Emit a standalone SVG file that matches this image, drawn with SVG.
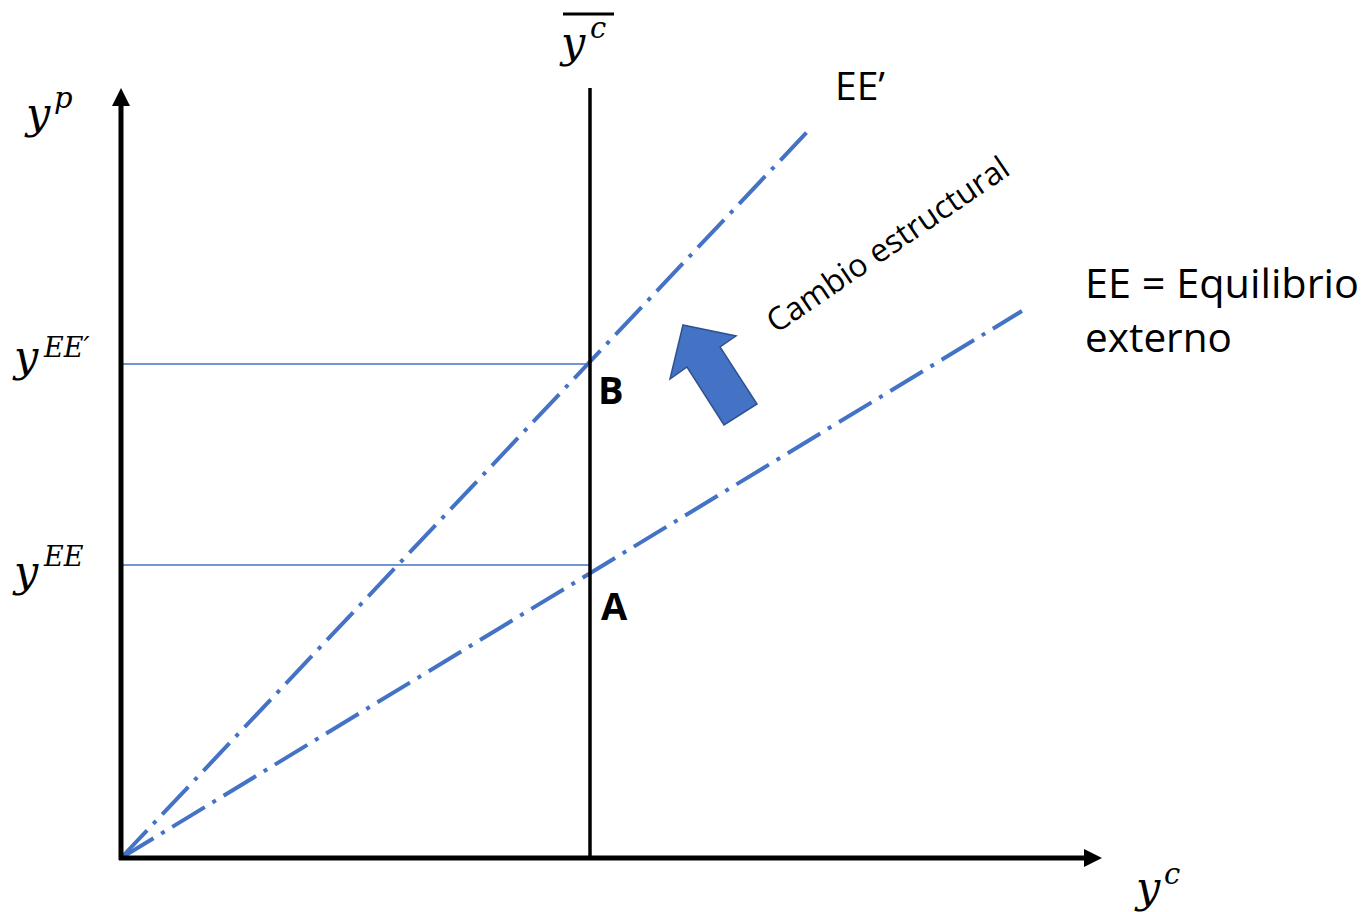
<svg xmlns="http://www.w3.org/2000/svg" width="1369" height="912" viewBox="0 0 1369 912">
<style>
.ax{stroke:#000;stroke-width:5;fill:none}
.ee{stroke:#4472C4;stroke-width:4;fill:none;stroke-dasharray:38 9 4 9}
.hl{stroke:#4472C4;stroke-width:1.5}
.m{font-family:"DejaVu Serif",serif;font-style:italic;fill:#000}
.t{font-family:"Open Sans","Liberation Sans",sans-serif;fill:#000}
.b{font-family:"Open Sans","Liberation Sans",sans-serif;font-weight:bold;fill:#000}
</style>
<rect width="1369" height="912" fill="#fff"/>
<g id="connectors">
  <line class="hl" x1="121" y1="364" x2="590" y2="364"/>
  <line class="hl" x1="121" y1="565" x2="590" y2="565"/>
  <line class="ee" x1="121" y1="858" x2="1022" y2="311"/>
  <line class="ee" x1="121" y1="858" x2="808" y2="131"/>
  <line x1="590" y1="88" x2="590" y2="858" stroke="#000" stroke-width="3.5"/>
</g>
<g id="axes">
  <line class="ax" x1="121" y1="860" x2="121" y2="104"/>
  <polygon points="121,88 112,106 130,106" fill="#000"/>
  <line class="ax" x1="119" y1="858" x2="1086" y2="858"/>
  <polygon points="1102,858 1084,849 1084,867" fill="#000"/>
</g>
<g id="shift-arrow">
  <polygon points="683,325 736,336 720,347 757,404 724,425 687,367 670,379" fill="#4472C4" stroke="#2F528F" stroke-width="1.5" stroke-linejoin="miter"/>
</g>
<g id="label-cambio">
  <text class="t" font-size="32" transform="translate(776,334) rotate(-34.2)">Cambio estructural</text>
</g>
<g id="label-ee-prime">
  <text class="t" font-size="39" x="835" y="100">EE’</text>
</g>
<g id="label-ee">
  <text class="t" font-size="40.5" x="1085" y="298" textLength="274" lengthAdjust="spacingAndGlyphs">EE = Equilibrio</text>
  <text class="t" font-size="40.5" x="1085" y="352">externo</text>
</g>
<g id="point-b"><text class="b" font-size="38" x="598" y="404">B</text></g>
<g id="point-a"><text class="b" font-size="38" x="601" y="620">A</text></g>
<g id="label-yp">
  <text class="m" font-size="43" x="26" y="128">y</text>
  <text class="m" font-size="29" x="54" y="108">p</text>
</g>
<g id="label-yee-prime">
  <text class="m" font-size="43" x="14" y="371">y</text>
  <text class="m" font-size="27" x="44" y="357">EE′</text>
</g>
<g id="label-yee">
  <text class="m" font-size="43" x="14" y="586">y</text>
  <text class="m" font-size="27" x="44" y="566">EE</text>
</g>
<g id="label-yc-bar">
  <line x1="563" y1="14" x2="614" y2="14" stroke="#000" stroke-width="3"/>
  <text class="m" font-size="43" x="561" y="57">y</text>
  <text class="m" font-size="29" x="590" y="38">c</text>
</g>
<g id="label-yc">
  <text class="m" font-size="43" x="1136" y="902">y</text>
  <text class="m" font-size="29" x="1164" y="884">c</text>
</g>
</svg>
